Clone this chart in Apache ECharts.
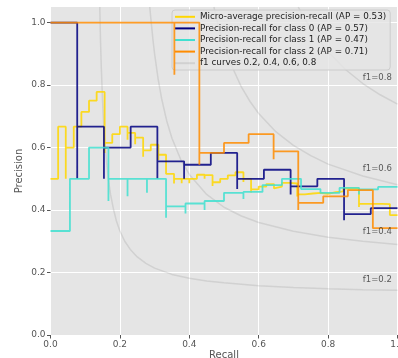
<!DOCTYPE html>
<html><head><meta charset="utf-8">
<script src="https://cdn.jsdelivr.net/npm/echarts@6/dist/echarts.min.js"></script>
<style>html,body{margin:0;padding:0;background:#fff}#c{width:398px;height:358px}</style>
</head><body><div id="c"></div>
<script>
// ---- data ----
const seriesNames = [
  'Micro-average precision-recall (AP = 0.53)',
  'Precision-recall for class 0 (AP = 0.57)',
  'Precision-recall for class 1 (AP = 0.47)',
  'Precision-recall for class 2 (AP = 0.71)'
];
const f1Name = 'f1 curves 0.2, 0.4, 0.6, 0.8';

// micro-average: step vertices (recall, precision), left to right
const microRecall = [0,0.022,0.044,0.044,0.067,0.089,0.111,0.133,0.156,0.156,0.178,0.2,0.222,0.222,0.244,0.244,0.267,0.267,0.289,0.311,0.311,0.333,0.356,0.356,0.378,0.378,0.4,0.4,0.422,0.444,0.444,0.467,0.467,0.489,0.511,0.533,0.556,0.556,0.578,0.578,0.6,0.622,0.644,0.644,0.667,0.689,0.711,0.711,0.733,0.733,0.756,0.756,0.778,0.8,0.822,0.844,0.867,0.889,0.889,0.911,0.933,0.956,0.978,1.0];
const microPrecision = [0.5,0.667,0.5,0.6,0.667,0.714,0.75,0.778,0.583,0.615,0.643,0.667,0.625,0.647,0.611,0.632,0.571,0.591,0.609,0.56,0.577,0.516,0.485,0.5,0.486,0.5,0.486,0.5,0.513,0.5,0.512,0.477,0.489,0.5,0.511,0.521,0.49,0.5,0.456,0.466,0.475,0.483,0.469,0.475,0.487,0.485,0.443,0.45,0.445,0.453,0.447,0.455,0.452,0.457,0.46,0.469,0.469,0.41,0.42,0.42,0.42,0.419,0.384,0.384];

const class0Recall = [0,0.077,0.077,0.154,0.154,0.231,0.308,0.308,0.385,0.385,0.462,0.538,0.538,0.615,0.692,0.692,0.769,0.846,0.846,0.923,1.0];
const class0Precision = [1.0,0.5,0.667,0.5,0.6,0.667,0.5,0.556,0.5,0.545,0.583,0.467,0.5,0.529,0.45,0.476,0.5,0.367,0.387,0.406,0.406];

const class1Recall = [0,0.056,0.111,0.167,0.167,0.222,0.222,0.278,0.278,0.333,0.333,0.389,0.389,0.444,0.444,0.5,0.556,0.556,0.611,0.667,0.722,0.778,0.833,0.889,0.889,0.944,1.0];
const class1Precision = [0.333,0.5,0.6,0.429,0.5,0.444,0.5,0.455,0.5,0.375,0.412,0.389,0.421,0.4,0.429,0.455,0.435,0.458,0.48,0.5,0.467,0.455,0.471,0.45,0.466,0.474,0.474];

const class2Recall = [0,0.357,0.357,0.429,0.429,0.5,0.571,0.643,0.643,0.714,0.714,0.786,0.857,0.929,1.0];
const class2Precision = [1.0,0.833,1.0,0.545,0.583,0.615,0.643,0.563,0.588,0.4,0.423,0.444,0.464,0.342,0.341];

// iso-f1 curves, points
const f1CurveA = [[0.142,1.05],[0.144,0.947],[0.1466,0.85],[0.15,0.75],[0.152,0.7],[0.156,0.629],[0.162,0.55],[0.167,0.497],[0.173,0.45],[0.182,0.4],[0.19,0.365],[0.2,0.333],[0.214,0.3],[0.23,0.274],[0.25,0.25],[0.275,0.229],[0.3,0.214],[0.35,0.194],[0.4,0.182],[0.45,0.173],[0.5,0.167],[0.6,0.158],[0.7,0.152],[0.8,0.148],[0.9,0.145],[1.0,0.143]];
const f1CurveB = [[0.286,1.05],[0.29,1.004],[0.295,0.948],[0.3,0.9],[0.31,0.821],[0.32,0.758],[0.335,0.685],[0.35,0.63],[0.375,0.5625],[0.4,0.514],[0.45,0.45],[0.5,0.409],[0.55,0.381],[0.6,0.36],[0.7,0.332],[0.8,0.313],[0.9,0.3],[1.0,0.29]];
const f1CurveC = [[0.471,1.05],[0.48,1.006],[0.49,0.965],[0.5,0.929],[0.52,0.867],[0.55,0.794],[0.575,0.7475],[0.6,0.709],[0.65,0.65],[0.7,0.607],[0.75,0.574],[0.8,0.547],[0.9,0.509],[1.0,0.481]];
const f1CurveD = [[0.714,1.05],[0.72,1.037],[0.735,1.008],[0.75,0.981],[0.775,0.941],[0.8,0.907],[0.85,0.85],[0.9,0.805],[0.95,0.769],[1.0,0.739]];
const f1LabelText = ['f1=0.2','f1=0.4','f1=0.6','f1=0.8'];
const f1LabelX = [0.9,0.9,0.9,0.9];
const f1LabelY = [0.176,0.33,0.531,0.822];

const xTicks = [0,0.2,0.4,0.6,0.8,1.0];
const yTicks = [0,0.2,0.4,0.6,0.8,1.0];

// ---- chart ----
const colors = ['#FFD700','#000080','#40E0D0','#FF8C00'];
const font = 'DejaVu Sans';
const zip = (xs, ys) => xs.map((x, i) => [x, ys[i]]);

const stepSeries = [
  [microRecall, microPrecision],
  [class0Recall, class0Precision],
  [class1Recall, class1Precision],
  [class2Recall, class2Precision]
].map((d, i) => ({
  type: 'line', name: seriesNames[i], step: 'end', showSymbol: false, symbol: 'none',
  color: colors[i], data: zip(d[0], d[1]), z: 3 + i,
  lineStyle: { width: 1.8, color: colors[i], opacity: 0.85 }, animation: false
}));

const grey = 'rgba(128,128,128,0.2)';
const f1Series = [f1CurveA, f1CurveB, f1CurveC, f1CurveD].map(c => ({
  type: 'line', name: f1Name, data: c, smooth: false, showSymbol: false, symbol: 'none',
  color: grey, lineStyle: { width: 1.5, color: grey }, z: 1, animation: false
}));

const labelSeries = {
  type: 'scatter', name: 'f1labels', symbolSize: 0, silent: true, z: 8, animation: false,
  data: f1LabelText.map((t, i) => ({ value: [f1LabelX[i], f1LabelY[i]], name: t })),
  label: { show: true, position: 'right', distance: 0, formatter: p => p.name,
    color: '#333', fontSize: 8.5, fontFamily: font }
};

const chart = echarts.init(document.getElementById('c'), null, { renderer: 'canvas' });
chart.setOption({
  animation: false,
  backgroundColor: '#ffffff',
  grid: { left: 50.5, right: 0.5, top: 7, bottom: 23, show: true, backgroundColor: '#E5E5E5', borderWidth: 0,
    outerBoundsMode: 'none', containLabel: false },
  xAxis: {
    type: 'value', min: 0, max: 1, interval: 0.2,
    name: 'Recall', nameLocation: 'middle', nameGap: 15, nameMoveOverlap: false,
    nameTextStyle: { color: '#555', fontSize: 10, fontFamily: font },
    axisLine: { show: false },
    axisTick: { show: true, length: 3.5, lineStyle: { color: '#555' }, customValues: xTicks },
    axisLabel: { color: '#555', fontSize: 9, fontFamily: font, margin: 5, customValues: xTicks,
      formatter: v => v.toFixed(1) },
    splitLine: { show: true, lineStyle: { color: '#ffffff', width: 1 } }
  },
  yAxis: {
    type: 'value', min: 0, max: 1.05,
    name: 'Precision', nameLocation: 'middle', nameGap: 26, nameMoveOverlap: false,
    nameTextStyle: { color: '#555', fontSize: 10, fontFamily: font },
    axisLine: { show: false },
    axisTick: { show: true, length: 3.5, lineStyle: { color: '#555' }, customValues: yTicks },
    axisLabel: { color: '#555', fontSize: 9, fontFamily: font, margin: 5, customValues: yTicks,
      formatter: v => v.toFixed(1) },
    splitLine: { show: true, lineStyle: { color: '#ffffff', width: 1 } }
  },
  legend: {
    data: seriesNames.concat([f1Name]), orient: 'vertical', left: 172, top: 10,
    icon: 'rect', itemWidth: 20, itemHeight: 2, itemGap: 0,
    padding: [1, 4, 1, 3],
    backgroundColor: 'rgba(229,229,229,0.8)', borderColor: '#cccccc', borderWidth: 1, borderRadius: 3,
    textStyle: { color: '#222', fontSize: 8.8, fontFamily: font, lineHeight: 11.6 },
    selectedMode: false
  },
  series: f1Series.concat(stepSeries, [labelSeries])
});
</script></body></html>
